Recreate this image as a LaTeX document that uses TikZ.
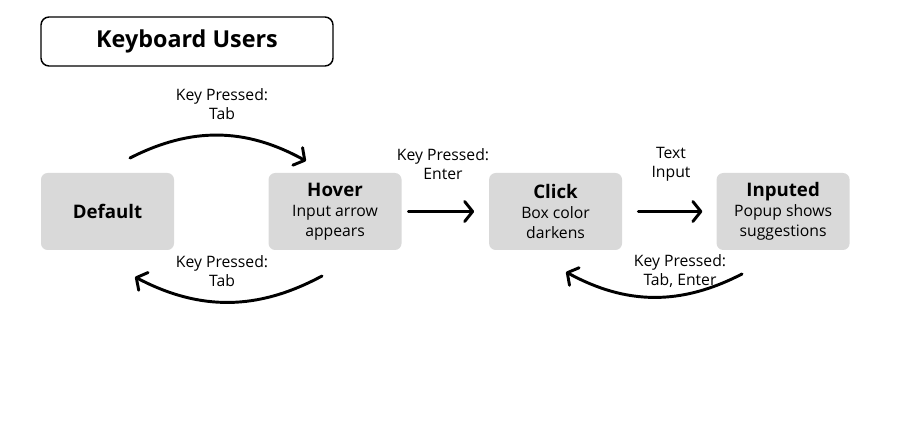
\documentclass[tikz,border=0pt]{standalone}
\usepackage{fontspec}
\setmainfont{Open Sans}
\usetikzlibrary{arrows.meta, positioning}
\definecolor{BoxGray}{HTML}{D9D9D9}
\tikzset{%
  state_box/.style={%
    rectangle,%
    rounded corners=5pt,%
    fill=BoxGray,%
    minimum width=99.75pt,%
    minimum height=57.75pt,%
    inner sep=0pt,%
    align=center,%
    font={\fontsize{11.8}{15}\selectfont},%
  },
  title_box/.style={%
    draw=black,%
    line width=1.1pt,%
    rounded corners=6pt,%
    minimum width=219pt,%
    minimum height=36.75pt,%
    font={\fontsize{17.5}{20}\selectfont\bfseries},%
  },
  flow_path/.style={%
    line width=2.2pt,%
    line cap=round,%
    line join=round,%
  },
  arrow/.style={-{Straight Barb[length=6pt, width=15pt, line cap=round, line join=round]}},
  annotate/.style={%
    align=center,%
    font={\fontsize{11.8}{14.2}\selectfont},%
  },
}
\newcommand{\statename}[1]{{\fontsize{14}{16}\selectfont\bfseries #1}}
\begin{document}
\begin{tikzpicture}[x=0.75pt, y=0.75pt]
  \useasboundingbox (0,0) rectangle (908,440);

  \node [title_box] (Title) at (187,398.5) {Keyboard Users};

  \node [state_box] (Default) at (107.5,228.5) {\statename{Default}};
  \node [state_box, right = 70.5pt of Default] (Hover) {\statename{Hover}\\Input arrow\\appears};
  \node [state_box, right = 65.25pt of Hover] (Click) {\statename{Click}\\Box color\\darkens};
  \node [state_box, right = 70.5pt of Click] (Inputed) {\statename{Inputed}\\Popup shows\\suggestions};

  \node [annotate] (tab_fwd_label) at (222,336) {Key Pressed:\\Tab};
  \node [annotate] (tab_back_label) at (222,169) {Key Pressed:\\Tab};
  \node [annotate] (enter_label) at (443,276) {Key Pressed:\\Enter};
  \node [annotate] (text_label) at (671,276) {Text\\Input};
  \node [annotate] (tab_enter_label) at (680,169) {Key Pressed:\\Tab, Enter};

  \coordinate (tab_fwd_start) at (130,282);
  \coordinate (tab_fwd_end) at (306,279);
  \coordinate (tab_back_start) at (322,164);
  \coordinate (tab_back_end) at (135,163);
  \coordinate (tab_enter_start) at (742,166);
  \coordinate (tab_enter_end) at (566,168);

  \draw [arrow, flow_path]
    (tab_fwd_start) to [bend left=28] (tab_fwd_end);
  \draw [arrow, flow_path]
    (tab_back_start) to [bend left=28] (tab_back_end);
  \draw [arrow, flow_path]
    (tab_enter_start) to [bend left=28] (tab_enter_end);
  \draw [arrow, flow_path, shorten <=5pt, shorten >=11pt]
    (Hover.east) -- (Click.west);
  \draw [arrow, flow_path, shorten <=12pt, shorten >=10.5pt]
    (Click.east) -- (Inputed.west);
\end{tikzpicture}
\end{document}
